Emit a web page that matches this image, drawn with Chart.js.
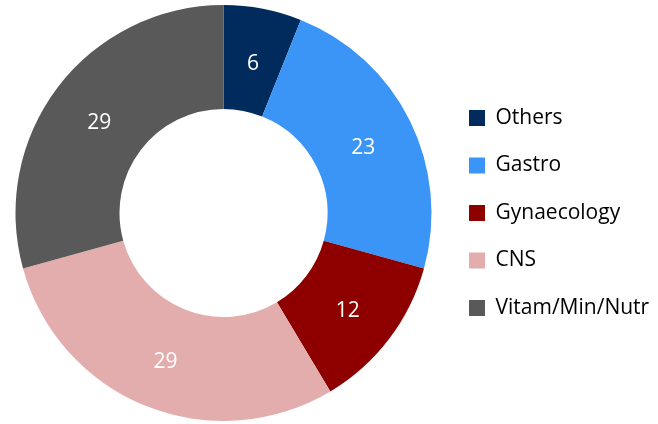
<!DOCTYPE html>
<html>
<head>
<meta charset="utf-8">
<script src="https://cdn.jsdelivr.net/npm/chart.js@4"></script>
<style>
html,body{margin:0;padding:0;background:#fff;}
#wrap{width:658px;height:424px;position:relative;}
</style>
</head>
<body>
<div id="wrap"><canvas id="c" width="658" height="424"></canvas></div>
<script>
const categories = ["Others", "Gastro", "Gynaecology", "CNS", "Vitam/Min/Nutr"];
const values = [6, 23, 12, 29, 29];
const colors = ["#002b5c", "#3a95f7", "#8e0000", "#e3adad", "#595959"];

const labelPlugin = {
  id: 'sliceLabels',
  afterDatasetsDraw(chart) {
    const ctx = chart.ctx;
    const meta = chart.getDatasetMeta(0);
    ctx.save();
    ctx.fillStyle = '#ffffff';
    ctx.font = '21px "Open Sans"';
    ctx.textAlign = 'center';
    ctx.textBaseline = 'middle';
    meta.data.forEach((arc, i) => {
      const p = arc.getCenterPoint();
      ctx.fillText(String(values[i]), p.x, p.y + 4);
    });
    ctx.restore();
  }
};

new Chart(document.getElementById('c'), {
  type: 'doughnut',
  data: {
    labels: categories,
    datasets: [{
      data: values,
      backgroundColor: colors,
      borderWidth: 0,
      hoverOffset: 0
    }]
  },
  options: {
    responsive: false,
    animation: false,
    cutout: '50%',
    layout: { padding: { left: 4.5, top: 5, bottom: 3, right: 0 } },
    plugins: {
      tooltip: { enabled: false },
      legend: {
        position: 'right',
        align: 'center',
        maxWidth: 215.5,
        labels: {
          boxWidth: 16,
          boxHeight: 16,
          padding: 26.5,
          color: '#000000',
          font: { family: '"Open Sans"', size: 21 }
        }
      }
    }
  },
  plugins: [labelPlugin]
});
</script>
</body>
</html>
